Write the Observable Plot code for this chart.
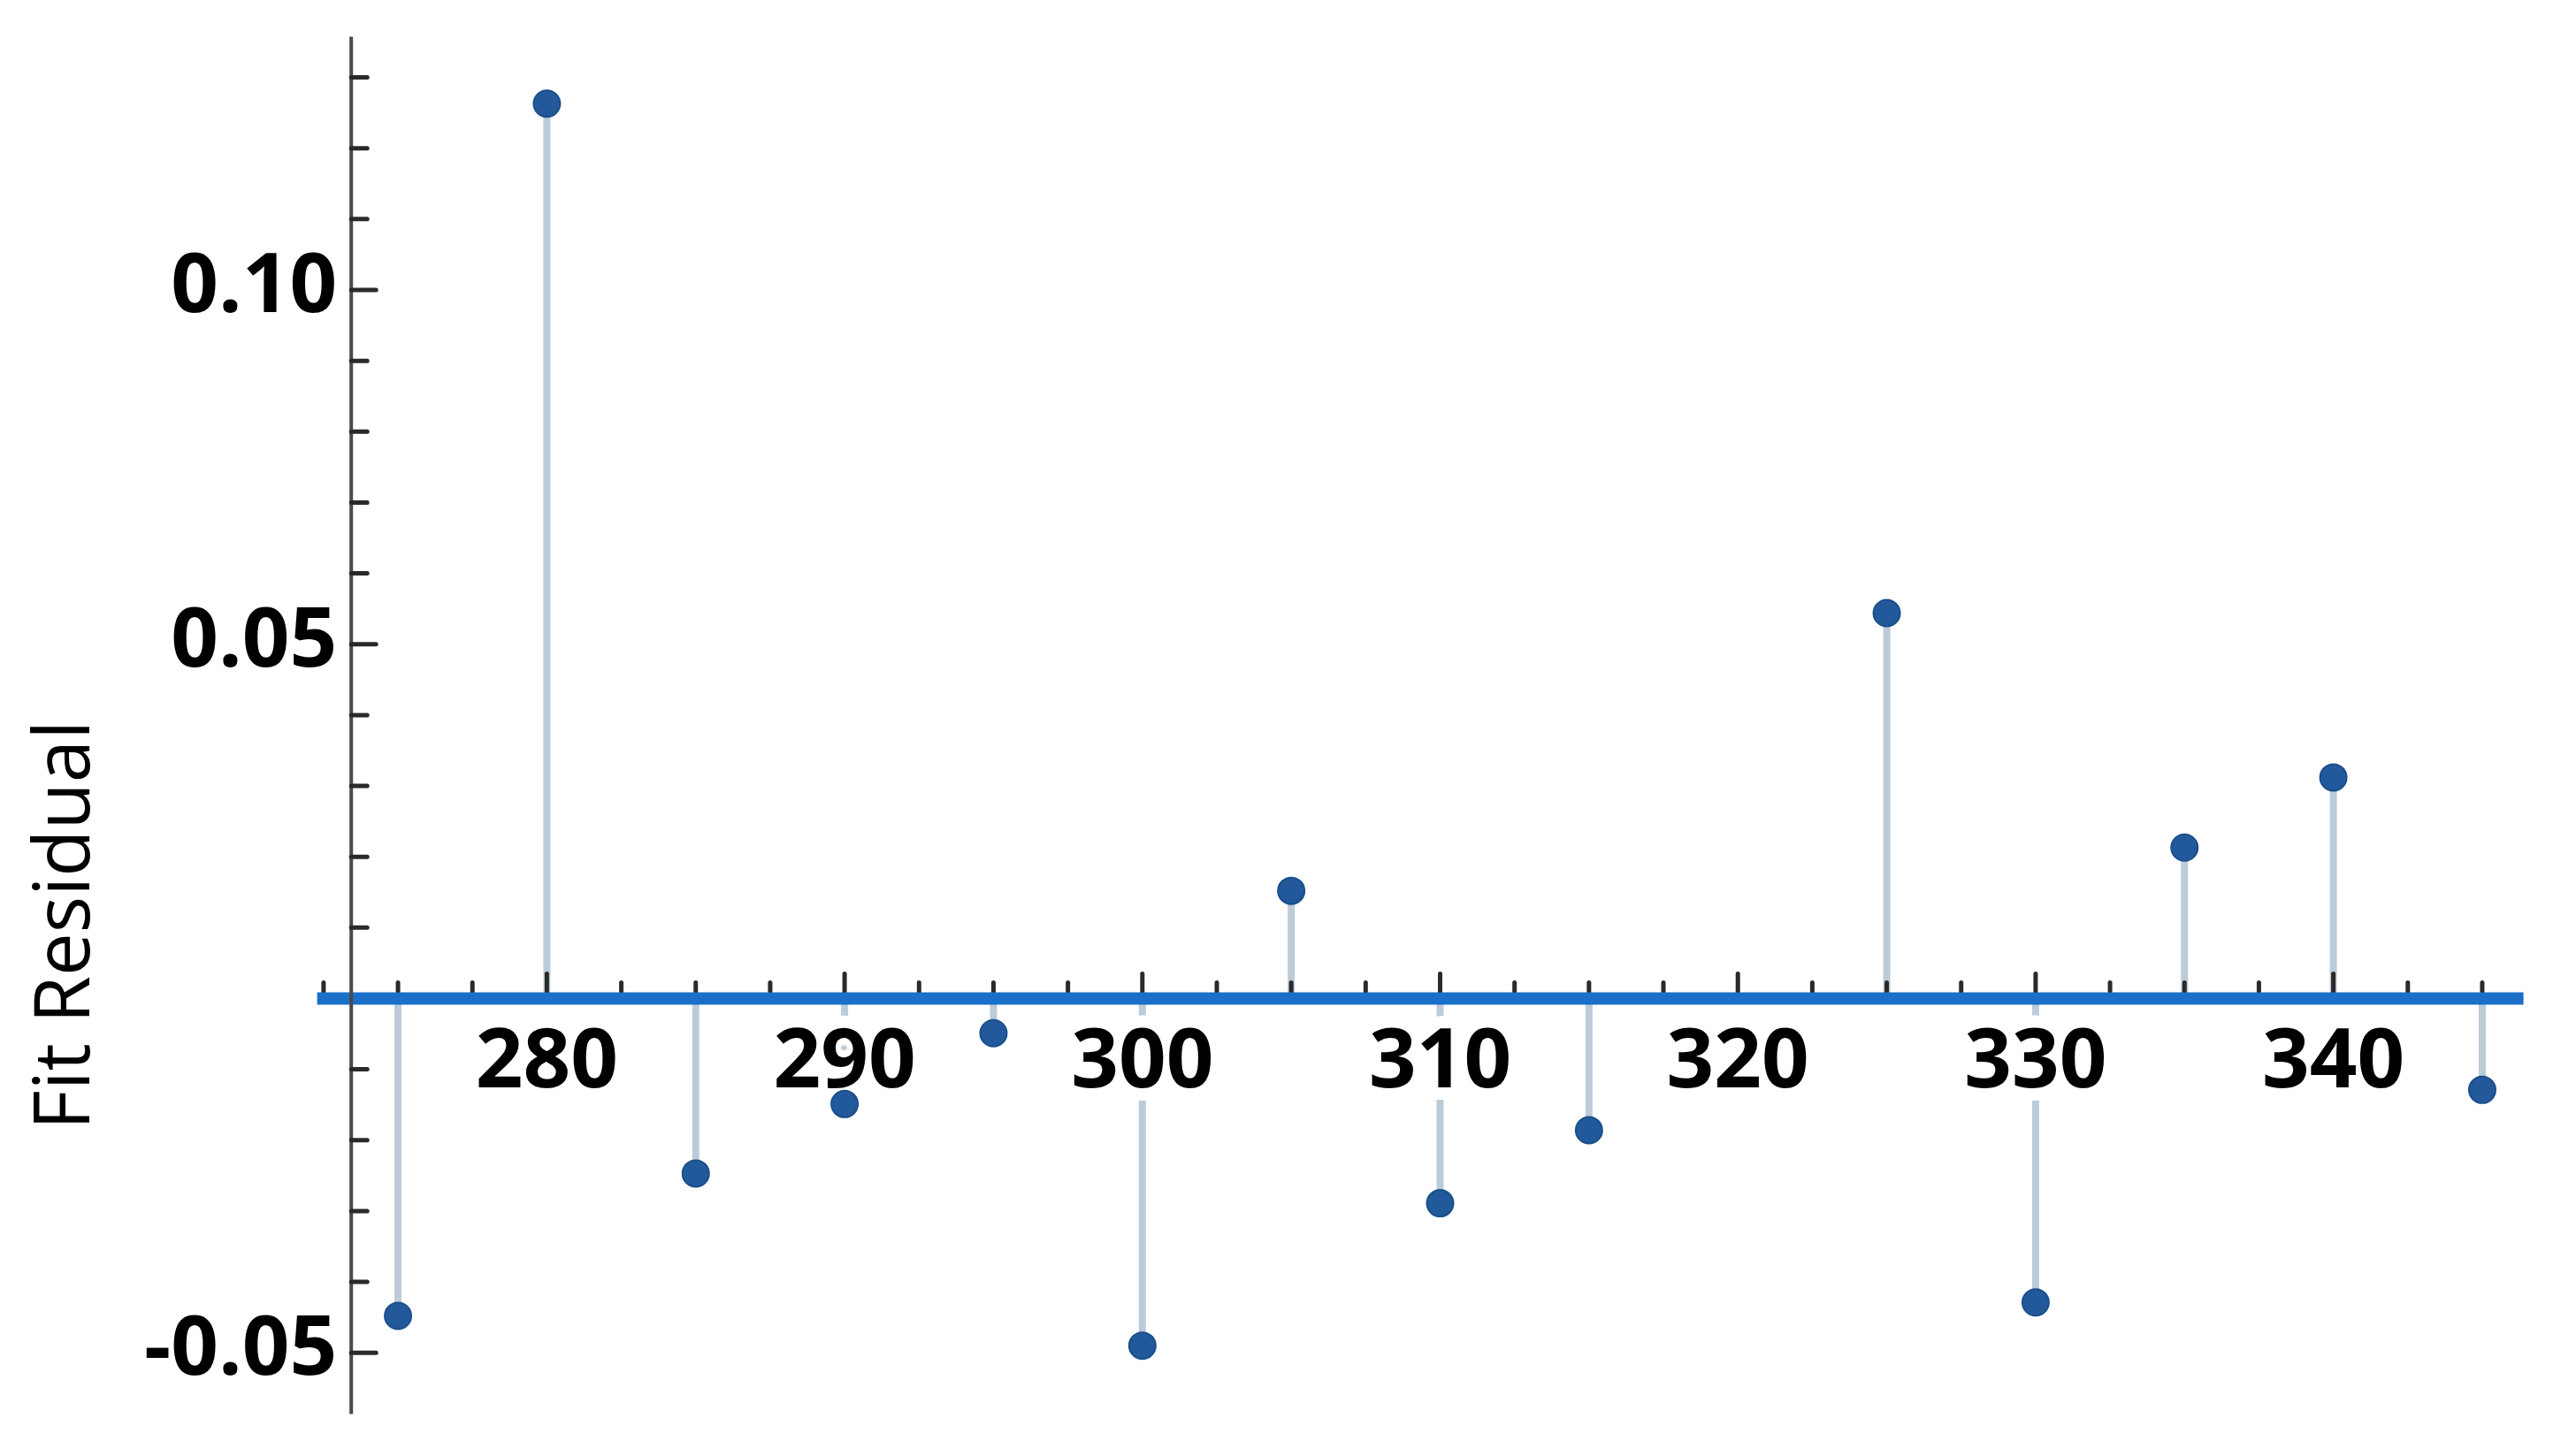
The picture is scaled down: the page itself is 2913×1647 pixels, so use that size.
<!DOCTYPE html>
<html><head><meta charset="utf-8">
<script src="https://cdn.jsdelivr.net/npm/d3@7"></script>
<script src="https://cdn.jsdelivr.net/npm/@observablehq/plot@0.6"></script>
<style>html,body{margin:0;padding:0;background:#fff;} #chart svg{display:block}</style>
</head><body><div id="chart"></div>
<script>
// Data
const wavelengths = [275, 280, 285, 290, 295, 300, 305, 310, 315, 325, 330, 335, 340, 345];
const residuals   = [-0.0448, 0.1263, -0.0247, -0.0149, -0.0049, -0.0490, 0.0152, -0.0289, -0.0186, 0.0544, -0.0429, 0.0213, 0.0312, -0.0129];

// Axis ticks / labels
const xLabelTicks = [280, 290, 300, 310, 320, 330, 340];
const xMinorTicks = [272.5, 275, 277.5, 282.5, 285, 287.5, 292.5, 295, 297.5, 302.5, 305, 307.5,
                     312.5, 315, 317.5, 322.5, 325, 327.5, 332.5, 335, 337.5, 342.5, 345];
const yLabelTicks = [-0.05, 0.05, 0.10];
const yMinorTicks = [-0.04, -0.03, -0.02, -0.01, 0.01, 0.02, 0.03, 0.04, 0.06, 0.07, 0.08, 0.09, 0.11, 0.12, 0.13];
const xDomain = [273.43, 346.4];
const yDomain = [-0.0584, 0.1355];
const zeroLine = [{y: 0, x1: 272.3, x2: 346.4}];
const yTitle = "Fit Residual";

const data = wavelengths.map((x, i) => ({x, y: residuals[i]}));
const tickShape = {draw(ctx, l) { ctx.moveTo(0, 0); ctx.lineTo(0, -l); }};
const labelFont = {fontSize: 94, fontWeight: "bold", fontFamily: "Open Sans", fill: "black"};

const chart = Plot.plot({
  width: 2913,
  height: 1647,
  marginLeft: 396.7,
  marginRight: 59.4,
  marginTop: 43,
  marginBottom: 50,
  style: {background: "white", overflow: "visible", fontFamily: "Open Sans"},
  x: {domain: xDomain, axis: null},
  y: {domain: yDomain, axis: null},
  marks: [
    // stems
    Plot.ruleX(data, {x: "x", y1: 0, y2: "y", stroke: "#bccbd8", strokeWidth: 8}),
    // x ticks (pointing up from zero line)
    Plot.vector(xMinorTicks, {x: d => d, y: 0, length: 18, rotate: 0, anchor: "start", shape: tickShape, stroke: "#2a2a2a", strokeWidth: 5}),
    Plot.vector(xLabelTicks, {x: d => d, y: 0, length: 28, rotate: 0, anchor: "start", shape: tickShape, stroke: "#2a2a2a", strokeWidth: 5}),
    // x tick labels with white background halo
    Plot.text(xLabelTicks, {x: d => d, y: 0, text: d => String(d), lineAnchor: "top", dy: 34,
      stroke: "white", strokeWidth: 28, strokeLinejoin: "round", ...labelFont}),
    // zero line
    Plot.ruleY(zeroLine, {y: "y", x1: "x1", x2: "x2", stroke: "#1a70c8", strokeWidth: 14}),
    // points
    Plot.dot(data, {x: "x", y: "y", r: 15, fill: "#22599a", stroke: "#1b4f8c", strokeWidth: 2}),
    // y axis line
    Plot.frame({anchor: "left", stroke: "#4a4a4a", strokeWidth: 4}),
    // y ticks (pointing right)
    Plot.vector(yMinorTicks, {y: d => d, frameAnchor: "left", length: 18, rotate: 90, anchor: "start", shape: tickShape, stroke: "#2a2a2a", strokeWidth: 5}),
    Plot.vector(yLabelTicks, {y: d => d, frameAnchor: "left", length: 28, rotate: 90, anchor: "start", shape: tickShape, stroke: "#2a2a2a", strokeWidth: 5}),
    // y tick labels
    Plot.text(yLabelTicks, {y: d => d, frameAnchor: "left", text: d => d.toFixed(2), textAnchor: "end", dx: -16, dy: -5, ...labelFont}),
    // y title
    Plot.text([yTitle], {text: d => d, frameAnchor: "left", rotate: -90, textAnchor: "middle", lineAnchor: "middle",
      dx: -324.5, dy: 226, fontSize: 87, fontFamily: "Open Sans", fontWeight: "normal", fill: "black"})
  ]
});
document.getElementById("chart").appendChild(chart);
</script>
</body></html>
